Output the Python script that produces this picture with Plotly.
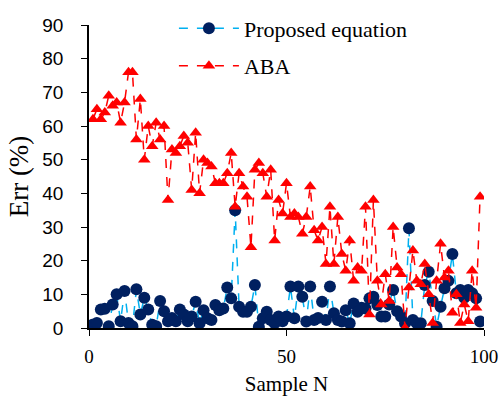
import plotly.graph_objects as go

# Sample index
sample_n = list(range(1, 100))

# Error of the proposed equation (%)
err_proposed = [
    1, 1.5, 5.5, 5.7, 0.5, 7, 10, 2, 11, 1.5,
    0.5, 11.5, 4, 9, 5.5, 1, 0.5, 8, 5, 2,
    3, 2, 5.5, 4, 2, 3.4, 7.8, 1.4, 5.3, 2.9,
    2.4, 6.8, 5.3, 5.8, 12, 8.8, 35, 6.3, 4.8, 4.8,
    6.3, 12.8, 0.4, 2.9, 4.8, 2.4, 1.4, 3.4, 2, 3.4,
    12.3, 2.9, 12.3, 9.3, 1.9, 12.3, 2.4, 3, 7.8, 2.4,
    12.3, 4.4, 2.4, 1.9, 5.3, 1.4, 7.3, 4.8, 6, 5.8,
    8.8, 9.3, 6.8, 3.4, 3.4, 7, 11.3, 5, 3.4, 1.4,
    29.6, 2.4, 1.4, 1.4, 12.8, 16.7, 8, 0.4, 6.3, 11.8,
    14, 22, 10.3, 11.3, 9, 11.3, 10.3, 8.8, 1.9,
]

# Error of the ABA method (%)
err_aba = [
    62, 65, 62, 64, 69, 66, 67, 61, 67, 76,
    76, 56, 68, 50, 60, 54, 61, 56, 60, 38,
    53, 52, 54, 57, 55, 41, 58, 40, 50, 49,
    48, 43, 43, 43, 46, 52, 36, 46, 42, 39,
    24, 47, 49, 46, 39, 47, 26, 38, 34, 43,
    33, 34, 33, 28, 33, 42, 29, 26, 30, 19,
    36, 19, 33, 22, 17, 26, 14, 18, 17, 36,
    4, 38, 14, 7, 16, 8, 30, 18, 16, 0,
    12, 23, 14, 13, 19, 10, 1.5, 14, 25, 15,
    17, 4.5, 10, 1.5, 7, 2, 17, 6, 39,
]

x_ticks = [0, 50, 100]
y_ticks = [0, 10, 20, 30, 40, 50, 60, 70, 80, 90]

serif = "Liberation Serif, Times New Roman, serif"
sans = "Liberation Sans, Arial, sans-serif"

fig = go.Figure()

fig.add_trace(go.Scatter(
    x=sample_n, y=err_proposed, name="Proposed equation",
    mode="lines+markers", legendgroup="a",
    line=dict(color="#00B0F0", width=1.5, dash="dash"),
    marker=dict(symbol="circle", size=12, color="#002060"),
))

fig.add_trace(go.Scatter(
    x=sample_n, y=err_aba, name="ABA",
    mode="lines+markers", legendgroup="b",
    line=dict(color="#FF0000", width=1.5, dash="dash"),
    marker=dict(symbol="triangle-up", size=11, color="#FF0000"),
))

fig.update_layout(
    width=502, height=396,
    margin=dict(l=89, r=18, t=25, b=68, autoexpand=False),
    paper_bgcolor="white", plot_bgcolor="white",
    showlegend=True,
    legend=dict(
        x=0.215, y=1.058, xanchor="left", yanchor="top",
        bgcolor="rgba(0,0,0,0)",
        font=dict(family=serif, size=22, color="black"),
        itemwidth=60,
        tracegroupgap=6,
    ),
)

fig.update_xaxes(
    range=[0, 100], tickvals=x_ticks, automargin=False,
    showline=True, linecolor="black", linewidth=1.5,
    ticks="outside", ticklen=6, tickcolor="black",
    showgrid=False, zeroline=False,
    tickfont=dict(family=serif, size=19, color="black"),
    ticklabelstandoff=4,
    title=dict(text="Sample N", font=dict(family=serif, size=21, color="black"),
               standoff=17),
)

fig.update_yaxes(
    range=[0, 90], tickvals=y_ticks, automargin=False,
    showline=True, linecolor="black", linewidth=1.5,
    ticks="outside", ticklen=6, tickcolor="black",
    showgrid=False, zeroline=False,
    tickfont=dict(family=sans, size=19, color="black"),
    ticklabelstandoff=14,
    title=dict(text="Err (%)", font=dict(family=serif, size=27, color="black"),
               standoff=6),
)

fig.write_html("out.html")
